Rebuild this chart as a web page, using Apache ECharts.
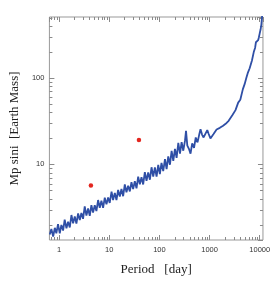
<!DOCTYPE html>
<html>
<head>
<meta charset="utf-8">
<script src="https://cdn.jsdelivr.net/npm/echarts@6/dist/echarts.min.js"></script>
<style>
  html, body { margin: 0; padding: 0; background: #fff; }
  #main { width: 273px; height: 281px; }
</style>
</head>
<body>
<div id="main"></div>
<script>
// detection limit curve, period [day] vs Mp sini [Earth mass]
var periods = [
  0.65, 0.70, 0.76, 0.82, 0.88, 0.95, 1.03, 1.11, 1.2, 1.29,
  1.4, 1.51, 1.63, 1.76, 1.9, 2.05, 2.21, 2.39, 2.58, 2.78,
  3.0, 3.24, 3.5, 3.78, 4.08, 4.4, 4.75, 5.13, 5.54, 5.98,
  6.46, 6.97, 7.53, 8.13, 8.78, 9.48, 10.2, 11.1, 11.9, 12.9,
  13.9, 15, 16.2, 17.5, 18.9, 20.4, 22, 23.8, 25.7, 27.7,
  29.9, 32.3, 34.9, 37.7, 40.7, 43.9, 47.4, 51.2, 55.3, 59.7,
  64.5, 69.6, 75.2, 81.2, 87.7, 94.7, 102, 110, 119, 129,
  139, 150, 162, 175, 189, 204, 220, 238, 257, 277,
  299, 323, 339, 360, 390, 417, 450, 490, 530, 575,
  620, 660, 710, 760, 828, 900, 960, 1040, 1110, 1200,
  1380, 1600, 1860, 2090, 2400, 2840, 3290, 3720, 4100, 4600,
  5000, 5400, 5760, 6300, 7000, 7600, 8100, 8400, 8800, 9300,
  9600, 10000, 10400, 10800, 11200
];
var masses = [
  1.54, 1.78, 1.46, 1.84, 1.59, 2.03, 1.59, 1.99, 1.71, 2.29,
  1.82, 2.17, 1.86, 2.59, 2.07, 2.50, 2.06, 2.70, 2.27, 2.73,
  2.34, 3.26, 2.55, 3.08, 2.54, 3.36, 2.76, 3.36, 2.88, 3.86,
  3.14, 3.80, 3.13, 4.11, 3.44, 4.14, 3.58, 4.84, 3.86, 4.68,
  3.85, 5.05, 4.24, 5.19, 4.28, 5.86, 4.76, 5.65, 4.86, 6.23,
  5.17, 6.40, 5.27, 7.22, 5.87, 7.10, 5.85, 8.14, 6.43, 8.08,
  6.64, 9.26, 7.22, 9.20, 7.20, 9.84, 7.73, 10.4, 8.37, 11.5,
  8.80, 12.4, 9.90, 14.3, 11.0, 15.1, 11.9, 17.8, 13.3, 18.1,
  14.4, 18.7, 24.5, 16.5, 15.0, 13.3, 17.5, 15.5, 20.5, 18.0,
  22.0, 25.5, 22.0, 20.5, 21.5, 25.0, 22.5, 20.0, 19.6, 22.5,
  25.4, 26.5, 28.0, 29.5, 32.0, 37.0, 42.5, 52.0, 56.0, 74.0,
  85.0, 100, 114, 130, 160, 200, 225, 260, 262, 275,
  295, 330, 365, 420, 540
];

// detected planets
var planetPeriods = [4.3, 39];
var planetMasses = [5.7, 19.2];

// axis ticks
var xMajorTicks = [1, 10, 100, 1000, 10000];
var yMajorTicks = [10, 100];
var xMinorTicks = [
  0.7, 0.8, 0.9,
  2, 3, 4, 5, 6, 7, 8, 9,
  20, 30, 40, 50, 60, 70, 80, 90,
  200, 300, 400, 500, 600, 700, 800, 900,
  2000, 3000, 4000, 5000, 6000, 7000, 8000, 9000
];
var yMinorTicks = [
  2, 3, 4, 5, 6, 7, 8, 9,
  20, 30, 40, 50, 60, 70, 80, 90,
  200, 300, 400, 500
];

var xRange = [0.64, 11600];
var yRange = [1.33, 510];
var tickColor = '#8a8a8a';

function majorLabel(list) {
  return function (v) {
    for (var i = 0; i < list.length; i++) {
      if (Math.abs(v - list[i]) / list[i] < 1e-6) return String(list[i]);
    }
    return '';
  };
}

var curve = periods.map(function (p, i) { return [p, masses[i]]; });
var planets = planetPeriods.map(function (p, i) { return [p, planetMasses[i]]; });

function minorTickItem(horizontal) {
  return function (params, api) {
    var r = params.coordSys;
    var pt = api.coord([api.value(0), api.value(1)]);
    var len = 3;
    var st = { stroke: tickColor, lineWidth: 1 };
    if (horizontal) {
      var x = Math.round(pt[0]) + 0.5;
      return { type: 'group', children: [
        { type: 'line', shape: { x1: x, y1: r.y + r.height, x2: x, y2: r.y + r.height - len }, style: st },
        { type: 'line', shape: { x1: x, y1: r.y, x2: x, y2: r.y + len }, style: st }
      ] };
    }
    var y = Math.round(pt[1]) + 0.5;
    return { type: 'group', children: [
      { type: 'line', shape: { x1: r.x, y1: y, x2: r.x + len, y2: y }, style: st },
      { type: 'line', shape: { x1: r.x + r.width, y1: y, x2: r.x + r.width - len, y2: y }, style: st }
    ] };
  };
}

var axisTickStyle = { show: true, inside: true, length: 5, lineStyle: { color: tickColor, width: 1 } };

var option = {
  backgroundColor: '#fff',
  animation: false,
  grid: {
    left: 39.5, right: 3.5, top: 17, bottom: 34,
    show: true, borderColor: '#999', borderWidth: 1, backgroundColor: 'transparent'
  },
  xAxis: [
    {
      type: 'log', logBase: 10, min: xRange[0], max: xRange[1],
      name: 'Period   [day]', nameLocation: 'middle', nameGap: 23,
      nameTextStyle: { fontFamily: 'Liberation Serif', fontSize: 13, color: '#222' },
      axisLine: { show: false },
      axisTick: axisTickStyle,
      splitLine: { show: false },
      axisLabel: {
        margin: 6, fontSize: 7.5, color: '#333', fontFamily: 'Liberation Sans',
        showMinLabel: false, showMaxLabel: false,
        formatter: majorLabel(xMajorTicks)
      }
    },
    {
      type: 'log', logBase: 10, min: xRange[0], max: xRange[1], position: 'top',
      axisLine: { show: false }, axisTick: axisTickStyle,
      splitLine: { show: false }, axisLabel: { show: false }
    }
  ],
  yAxis: [
    {
      type: 'log', logBase: 10, min: yRange[0], max: yRange[1],
      name: 'Mp sini  [Earth Mass]', nameLocation: 'middle', nameGap: 28, nameRotate: 90,
      nameTextStyle: { fontFamily: 'Liberation Serif', fontSize: 13, color: '#222' },
      axisLine: { show: false },
      axisTick: axisTickStyle,
      splitLine: { show: false },
      axisLabel: {
        margin: 5, fontSize: 7.5, color: '#333', fontFamily: 'Liberation Sans',
        showMinLabel: false, showMaxLabel: false,
        formatter: majorLabel(yMajorTicks)
      }
    },
    {
      type: 'log', logBase: 10, min: yRange[0], max: yRange[1], position: 'right',
      axisLine: { show: false }, axisTick: axisTickStyle,
      splitLine: { show: false }, axisLabel: { show: false }
    }
  ],
  series: [
    {
      type: 'custom', xAxisIndex: 0, yAxisIndex: 0, silent: true,
      renderItem: minorTickItem(true),
      data: xMinorTicks.map(function (v) { return [v, 10]; })
    },
    {
      type: 'custom', xAxisIndex: 0, yAxisIndex: 0, silent: true,
      renderItem: minorTickItem(false),
      data: yMinorTicks.map(function (v) { return [1, v]; })
    },
    {
      type: 'line', data: curve, showSymbol: false, symbol: 'none',
      lineStyle: { color: '#2f4fa6', width: 1.8 }, z: 3
    },
    {
      type: 'scatter', data: planets, symbolSize: 4.5,
      itemStyle: { color: '#e3261f', opacity: 1 }, z: 4
    }
  ]
};

var myChart = echarts.init(document.getElementById('main'));
myChart.setOption(option);
</script>
</body>
</html>
